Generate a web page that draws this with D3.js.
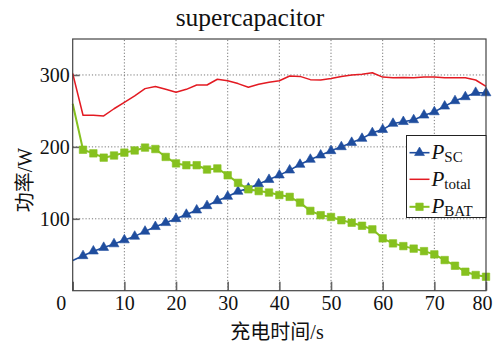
<!DOCTYPE html>
<html>
<head>
<meta charset="utf-8">
<script src="https://cdn.jsdelivr.net/npm/d3@7"></script>
<style>
  html, body { margin: 0; padding: 0; background: #fff; }
  svg { display: block; }
  text { font-family: "Liberation Serif", "Times New Roman", "Noto Sans CJK SC", serif; fill: #111; }
</style>
</head>
<body>
<svg id="chart" width="495" height="343"></svg>
<script>
// Charging time (s)
const time = [0, 2, 4, 6, 8, 10, 12, 14, 16, 18, 20, 22, 24, 26, 28, 30, 32, 34, 36, 38, 40,
              42, 44, 46, 48, 50, 52, 54, 56, 58, 60, 62, 64, 66, 68, 70, 72, 74, 76, 78, 80];

// Supercapacitor power (W)
const pSC = [42, 48.5, 55, 60, 65, 70.5, 75.5, 82.5, 89, 94.5, 100, 106, 112, 118, 125, 131, 138, 142.5, 148.5, 154.5, 160.7,
             167.6, 175.5, 182.5, 188.5, 194.5, 200, 206, 211.6, 219.5, 224, 232.5, 235, 237.5, 244, 248.6, 256.5, 264, 269.5, 275.5, 275];

// Total power (W)
const pTotal = [302, 244, 244, 243, 253, 262, 271, 281, 284, 280, 276, 280, 286, 286, 294, 292, 288, 283, 287, 290, 292,
                298.6, 298, 293.5, 293, 295, 298, 300, 301, 303, 297, 296, 296.5, 296, 297, 297, 296, 296, 296, 293, 284];

// Battery power (W)
const pBAT = [260, 196, 191, 185, 188, 192, 195, 199, 197, 186, 177, 174.5, 174.5, 168.5, 170, 160.5, 150, 141, 138.5, 136.5, 133,
              130.5, 122.5, 111, 105, 102.5, 98, 94.5, 90.3, 85.3, 72.8, 65.8, 62, 58.5, 55, 50.5, 42.6, 34.7, 26.4, 21.8, 19.4];

const xTicks = [0, 10, 20, 30, 40, 50, 60, 70, 80];
const yTicks = [100, 200, 300];
const yGrid = [100, 200, 300];

const title = "supercapacitor";
const xLabel = "充电时间/s";
const yLabel = "功率/W";

const series = [
  { name: "SC", values: pSC, color: "#1f4d9e", width: 1.6, marker: "triangle" },
  { name: "total", values: pTotal, color: "#e31a22", width: 1.5, marker: null },
  { name: "BAT", values: pBAT, color: "#86c11f", width: 2, marker: "square" }
];

const SERIF = "'Liberation Serif', 'Times New Roman', serif";

const svg = d3.select("#chart");
const L = 72.7, R = 486, T = 39, B = 290.7;

const x = d3.scaleLinear().domain([0, 80]).range([L, R]);
const y = d3.scaleLinear().domain([0, 350]).range([B, T]);

// dotted grid
const grid = svg.append("g");
grid.selectAll("line.gx").data(xTicks.slice(1, -1)).join("line")
  .attr("x1", d => x(d)).attr("x2", d => x(d)).attr("y1", B).attr("y2", T)
  .attr("stroke", "#777").attr("stroke-width", 1).attr("stroke-dasharray", "1.2,2");
grid.selectAll("line.gy").data(yGrid).join("line")
  .attr("x1", L).attr("x2", R).attr("y1", d => y(d)).attr("y2", d => y(d))
  .attr("stroke", "#777").attr("stroke-width", 1).attr("stroke-dasharray", "1.2,2");

// axes with inward ticks
const xAxis = svg.append("g").attr("transform", `translate(0,${B})`)
  .call(d3.axisBottom(x).tickValues(xTicks).tickSize(-9).tickPadding(5).tickSizeOuter(0));
const yAxis = svg.append("g").attr("transform", `translate(${L},0)`)
  .call(d3.axisLeft(y).tickValues(yTicks).tickSize(-7).tickPadding(3).tickSizeOuter(0));

[xAxis, yAxis].forEach(a => {
  a.attr("font-family", SERIF).attr("font-size", 20);
  a.select(".domain").remove();
  a.selectAll(".tick line").attr("stroke", "#666").attr("stroke-width", 1.6);
  a.selectAll(".tick text").attr("fill", "#111");
});
xAxis.selectAll(".tick text").attr("dy", "0.71em");
// keep the end labels clear of the frame corners
xAxis.selectAll(".tick text").filter(d => d === 0).attr("dx", -12);
xAxis.selectAll(".tick text").filter(d => d === 80).attr("dx", -4);

// plot lines and markers
const line = d3.line().x((d, i) => x(time[i])).y(d => y(d));
const tri = d3.symbol().type(d3.symbolTriangle).size(42);
const sq = d3.symbol().type(d3.symbolSquare).size(56);

series.forEach(s => {
  const g = svg.append("g");
  g.append("path").datum(s.values).attr("d", line)
    .attr("fill", "none").attr("stroke", s.color).attr("stroke-width", s.width)
    .attr("stroke-linejoin", "round");
  if (s.marker) {
    const sym = s.marker === "triangle" ? tri : sq;
    g.selectAll("path.m").data(s.values.slice(1)).join("path")
      .attr("d", sym)
      .attr("transform", (d, i) => `translate(${x(time[i + 1])},${y(d)})`)
      .attr("fill", s.color).attr("stroke", s.color).attr("stroke-width", 0.6);
  }
});

// frame
svg.append("rect").attr("x", L).attr("y", T).attr("width", R - L).attr("height", B - T)
  .attr("fill", "none").attr("stroke", "#444").attr("stroke-width", 1.2);

// legend
const lg = svg.append("g").attr("font-family", SERIF);
const lgX = 406.5, lgY = 135.5, lgW = R - 406.5, lgH = 82;
lg.append("rect").attr("x", lgX).attr("y", lgY).attr("width", lgW).attr("height", lgH)
  .attr("fill", "#fff").attr("stroke", "#222").attr("stroke-width", 1);
const rowY = [152.7, 179.3, 206.8];
series.forEach((s, i) => {
  const cy = rowY[i];
  lg.append("line").attr("x1", 409.5).attr("x2", 429.5).attr("y1", cy).attr("y2", cy)
    .attr("stroke", s.color).attr("stroke-width", s.width);
  if (s.marker) {
    const sym = s.marker === "triangle" ? tri : sq;
    lg.append("path").attr("d", sym).attr("transform", `translate(419.5,${cy})`)
      .attr("fill", s.color).attr("stroke", s.color).attr("stroke-width", 0.6);
  }
  const t = lg.append("text").attr("x", 431.5).attr("y", cy + 6.5).style("font-family", SERIF);
  t.append("tspan").text("P").style("font-style", "italic").style("font-size", "21px");
  t.append("tspan").text(s.name).attr("dy", 3).style("font-size", "15px");
});

// title and axis labels
svg.append("text").attr("x", 250).attr("y", 26).attr("text-anchor", "middle")
  .style("font-family", SERIF).style("font-size", "25.5px").text(title);
svg.append("text").attr("x", 277).attr("y", 339).attr("text-anchor", "middle")
  .style("font-size", "20px").text(xLabel);
svg.append("text").attr("transform", "translate(32,180) rotate(-90)").attr("text-anchor", "middle")
  .style("font-size", "20px").text(yLabel);
</script>
</body>
</html>
